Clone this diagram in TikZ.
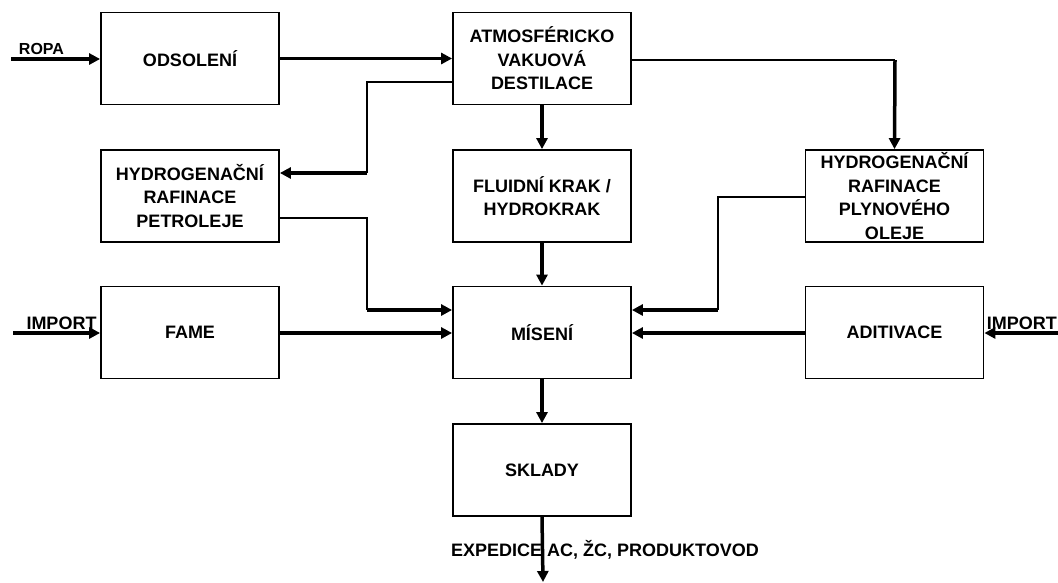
\documentclass[tikz,border=0pt]{standalone}
\usepackage{fontspec}
\setmainfont{Liberation Sans}
\usetikzlibrary{arrows.meta}
\begin{document}
\begin{tikzpicture}[x=1pt,y=-1pt,
  box/.style={draw, line width=1.8pt, minimum width=178pt, minimum height=92pt, inner sep=0pt, align=center, font=\bfseries\fontsize{18}{23.5}\selectfont},
  flow/.style={line width=3.5pt, -{Triangle[length=11pt,width=11pt]}},
  thinline/.style={line width=2pt, line join=miter},
  lbl/.style={inner sep=0pt, font=\bfseries\fontsize{18}{22}\selectfont}]
\useasboundingbox (0,0) rectangle (1058,582);

% boxes
\node[box] (ods) at (190,58.5) {ODSOLENÍ};
\node[box] (pet) at (190,196) {HYDROGENAČNÍ\\RAFINACE\\PETROLEJE};
\node[box] (fame) at (190,332.5) {FAME};
\node[box] (atm) at (542,58.5) {ATMOSFÉRICKO\\VAKUOVÁ\\DESTILACE};
\node[box] (flu) at (542,196) {FLUIDNÍ KRAK /\\HYDROKRAK};
\node[box] (mis) at (542,332.5) {MÍSENÍ};
\node[box] (skl) at (542,470) {SKLADY};
\node[box] (ply) at (894.5,196) {HYDROGENAČNÍ\\RAFINACE\\PLYNOVÉHO\\OLEJE};
\node[box] (adi) at (894.5,332.5) {ADITIVACE};

% labels
\node[lbl, font=\bfseries\fontsize{16}{20}\selectfont] (lropa) at (41.5,49) {ROPA};
\node[lbl] (limpl) at (61.5,323) {IMPORT};
\node[lbl, anchor=east] (limpr) at (1057,323) {IMPORT};
\node[lbl] (lexp) at (605,550) {EXPEDICE AC, ŽC, PRODUKTOVOD};

% free ends and bends
\coordinate (ropa) at (11,59);
\coordinate (impl) at (13,333);
\coordinate (impr) at (1060,333);
\coordinate (expe) at (543,582);
\coordinate (k1) at (367,82);
\coordinate (k2) at (367,173);
\coordinate (k3) at (367,218);
\coordinate (k4) at (367,310);
\coordinate (k5) at (895,60);
\coordinate (k6) at (718,197);
\coordinate (k7) at (718,310);

% connectors
\draw[flow] (ropa) -- (ods.west |- ropa);
\draw[flow] (ods.east) -- (atm.west);
\draw[thinline] (atm.west |- k1) -- (k1) -- (k2);
\draw[flow] (k2) -- (pet.east |- k2);
\draw[flow] (atm.south) -- (flu.north);
\draw[thinline] (atm.east |- k5) -- (k5);
\draw[flow] (k5) -- (ply.north);
\draw[thinline] (pet.east |- k3) -- (k3) -- (k4);
\draw[flow] (k4) -- (mis.west |- k4);
\draw[flow] (impl) -- (fame.west |- impl);
\draw[flow] (fame.east |- impl) -- (mis.west |- impl);
\draw[flow] (flu.south) -- (mis.north);
\draw[thinline] (ply.west |- k6) -- (k6) -- (k7);
\draw[flow] (k7) -- (mis.east |- k7);
\draw[flow] (adi.west |- impl) -- (mis.east |- impl);
\draw[flow] (impr) -- (adi.east |- impr);
\draw[flow] (mis.south) -- (skl.north);
\draw[flow] (skl.south) -- (expe);
\end{tikzpicture}
\end{document}
